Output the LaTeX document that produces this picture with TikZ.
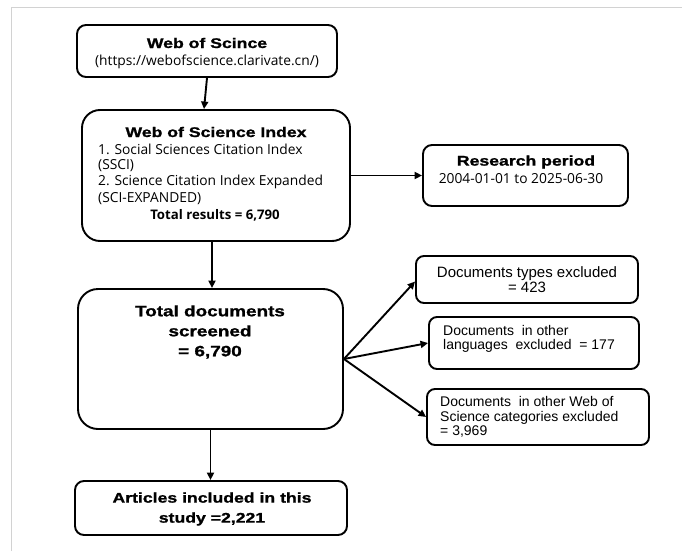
\documentclass[tikz,border=0pt]{standalone}
\usepackage{fontspec}
\setmainfont{Liberation Sans}
\newfontfamily\heavyfont{Liberation Sans}[FakeStretch=1.26,FakeBold=1.2]
\newfontfamily\bodyfont{Open Sans}
\usetikzlibrary{arrows.meta}
\tikzset{
  box/.style={draw, line width=1.9pt, rounded corners=#1, inner sep=0pt},
  box/.default=9pt,
  arr/.style={-{Triangle[length=7.5pt,width=7pt]}, line width=1.9pt},
  ttl/.style={font=\fontsize{14}{20}\selectfont\heavyfont\bfseries, align=center, inner sep=0pt},
  txt/.style={font=\fontsize{13.8}{16.5}\selectfont\bodyfont, inner sep=0pt},
  sml/.style={font=\fontsize{14}{14.5}\selectfont, inner sep=0pt},
}
\begin{document}
\begin{tikzpicture}[x=1pt,y=-1pt]
				\useasboundingbox (0,0) rectangle (682,551);
				\draw[gray!35, line width=1pt] (11,551) -- (11,8) -- (682,8);
				\node[box, minimum width=260pt, minimum height=52pt] (wos) at (207,51) {};
				\node[box=18pt, minimum width=268pt, minimum height=131pt] (idx) at (216,175.5) {};
				\node[box, minimum width=205pt, minimum height=61pt] (period) at (525.5,175.5) {};
				\node[box=20pt, minimum width=265pt, minimum height=140pt] (docs) at (210.5,359) {};
				\node[box, minimum width=272pt, minimum height=54pt] (arts) at (211,508) {};
				\node[box=8pt, minimum width=222pt, minimum height=47pt] (types) at (527,279.5) {};
				\node[box=8pt, minimum width=210pt, minimum height=52pt] (lang) at (534,343) {};
				\node[box=8pt, minimum width=222pt, minimum height=56pt] (cats) at (538,417) {};
				\node[ttl] (wost) at (207,43) {Web of Scince};
				\node[txt] (wosu) at (207,62) {(https://webofscience.clarivate.cn/)};
				\node[ttl] (idxt) at (216,132) {Web of Science Index};
				\node[txt, anchor=west] (idx1) at (98,149) {1. Social Sciences Citation Index};
				\node[txt, anchor=west] (idx2) at (98,166) {(SSCI)};
				\node[txt, anchor=west] (idx3) at (98,182) {2. Science Citation Index Expanded};
				\node[txt, anchor=west] (idx4) at (98,199) {(SCI-EXPANDED)};
				\node[txt, font=\fontsize{13.2}{15}\selectfont\bodyfont\bfseries] (idxn) at (215,215) {Total results = 6,790};
				\node[ttl] (periodt) at (526,162) {Research period};
				\node[txt] (periodd) at (521,179) {2004-01-01 to 2025-06-30};
				\node[ttl, font=\fontsize{15}{20}\selectfont\heavyfont\bfseries] (docst) at (210,332) {Total documents\\screened\\= 6,790};
				\node[ttl] (artst) at (212,509) {Articles included in this\\study =2,221};
				\node[sml, font=\fontsize{15}{15}\selectfont, align=center] (typest) at (527,279.5) {Documents types excluded\\= 423};
				\node[sml, align=left, anchor=west] (langt) at (443,339) {Documents \ in other\\languages \ excluded \ = 177};
				\node[sml, align=left, anchor=west] (catst) at (440,417) {Documents \ in other Web of\\Science categories excluded\\= 3,969};
				\draw[arr] (wos.south) to ([xshift=-12pt]idx.north);
				\draw[arr] (idx.east) to (period.west);
				\draw[arr] ([xshift=-4pt]idx.south) to ([xshift=1.5pt]docs.north);
				\draw[arr] (docs.south) to (docs.south |- arts.north);
				\draw[arr] (docs.east) to ([yshift=-2pt]types.west);
				\draw[arr] (docs.east) to (lang.west);
				\draw[arr] (docs.east) to (cats.west);
			\end{tikzpicture}
\end{document}
